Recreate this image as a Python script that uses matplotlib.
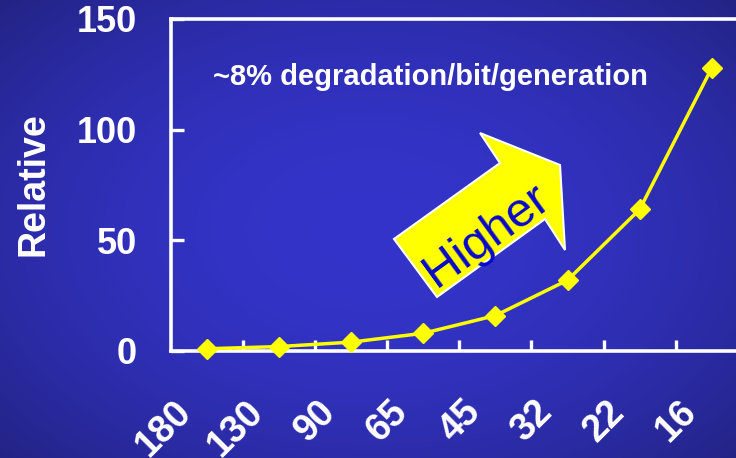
import numpy as np
import matplotlib.pyplot as plt
from matplotlib.patches import Polygon
import matplotlib.transforms as mtransforms

#===========Data============#
nodes = ["180", "130", "90", "65", "45", "32", "22", "16"]   # technology node (nm)
relative = [1, 2, 4, 8, 16, 32, 64, 128]                    # relative degradation
yticks = [0, 50, 100, 150]

plt.rcParams['font.family'] = ['Liberation Sans', 'DejaVu Sans']
plt.rcParams['font.weight'] = 'bold'

W, H = 736, 458
fig = plt.figure(figsize=(W / 100, H / 100), dpi=100)

##background : blue gradient, bright in the middle, dark at the corners
bg = fig.add_axes([0, 0, 1, 1], zorder=-10)
yy, xx = np.mgrid[0:H, 0:W]
d = np.sqrt(((xx - 370) / 580.0) ** 2 + ((yy - 230) / 380.0) ** 2)
d = np.clip(d, 0, 1)
c_in = np.array([52, 52, 202]) / 255.0
c_out = np.array([30, 30, 112]) / 255.0
w = d[..., None] ** 2.0
img = c_in[None, None, :] * (1 - w) + c_out[None, None, :] * w
bg.imshow(img, aspect='auto', interpolation='bilinear')
bg.axis('off')

##main axes (right edge runs off the picture)
ax = fig.add_axes([170.5 / W, 1 - 351 / H, (748 - 170.5) / W, (351 - 19) / H])
ax.set_facecolor('none')
x = np.arange(len(nodes))
ax.plot(x, relative, color='#ffff00', lw=2.5, marker='D', ms=10.5,
        mfc='#ffff00', mec='#ffff00', clip_on=False, zorder=5)

ax.set_xlim(-0.5, len(nodes) - 0.5)
ax.set_ylim(0, 150)
for s in ax.spines.values():
    s.set_color('white')
    s.set_linewidth(2.6)

ax.set_yticks(yticks)
ax.tick_params(axis='y', direction='in', length=9, width=2.4, color='white',
               labelcolor='white', labelsize=26, pad=24)
# major x ticks sit between categories, labels on the minor ticks
ax.set_xticks(np.arange(0.5, len(nodes) - 0.5, 1.0))
ax.set_xticklabels([])
ax.tick_params(axis='x', which='major', direction='in', length=8, width=2.4, color='white')
ax.set_xticks(x, minor=True)
ax.set_xticklabels(nodes, minor=True, rotation=45, ha='right', va='top')
ax.tick_params(axis='x', which='minor', length=0, labelcolor='white', labelsize=27, pad=31)
off = mtransforms.ScaledTranslation(-8 / 100, 0, fig.dpi_scale_trans)
for lab in ax.get_xticklabels(minor=True):
    lab.set_transform(lab.get_transform() + off)
for lab in ax.get_yticklabels() + ax.get_xticklabels(minor=True):
    lab.set_fontweight('bold')

fig.text(33 / W, 1 - 184 / H, "Relative", rotation=90, ha='center', va='center',
         color='white', fontsize=27, fontweight='bold')

ax.text(0.074, 0.825, "~8% degradation/bit/generation", transform=ax.transAxes,
        ha='left', va='center', color='white', fontsize=21, fontweight='bold')

##"Higher" block arrow
pts = [(394, 239), (437, 297), (545, 219), (565, 250), (560, 165), (480, 133), (500, 163)]
arrow = Polygon([(px / W, 1 - py / H) for px, py in pts], closed=True,
                transform=fig.transFigure, facecolor='#ffff00', edgecolor='white',
                lw=1.5, zorder=4)
fig.add_artist(arrow)
fig.text(487 / W, 1 - 236 / H, "Higher", rotation=36, rotation_mode='anchor',
         ha='center', va='center', color='#0808cc', fontsize=35, fontweight='normal',
         zorder=6)

fig.savefig("out.png", dpi=100)
